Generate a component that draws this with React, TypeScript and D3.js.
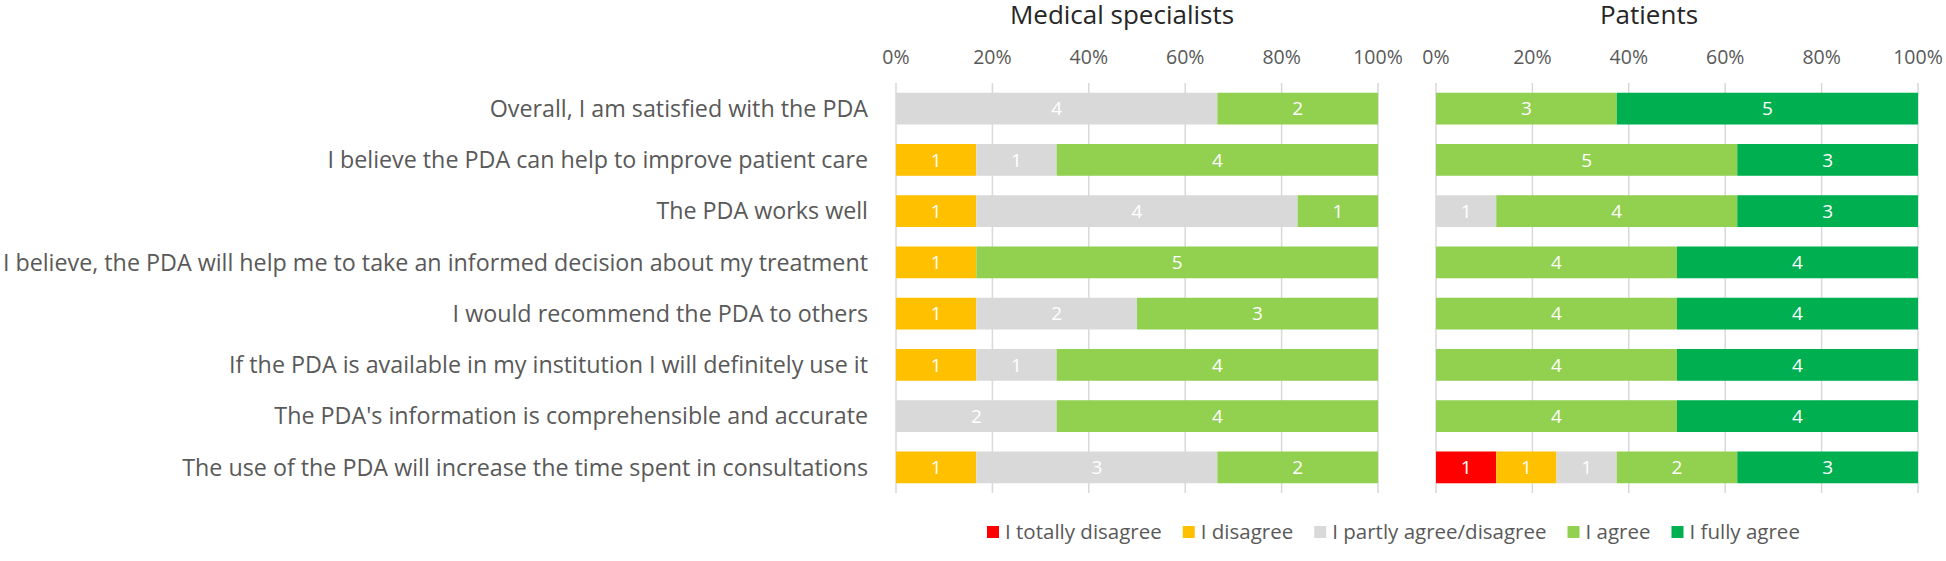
import React, { useEffect, useRef } from 'react';
import * as d3 from 'd3';

const categories = [
  'Overall, I am satisfied with the PDA',
  'I believe the PDA can help to improve patient care',
  'The PDA works well',
  'I believe, the PDA will help me to take an informed decision about my treatment',
  'I would recommend the PDA to others',
  'If the PDA is available in my institution I will definitely use it',
  "The PDA's information is comprehensible and accurate",
  'The use of the PDA will increase the time spent in consultations',
];

const responseLevels = ['I totally disagree', 'I disagree', 'I partly agree/disagree', 'I agree', 'I fully agree'];
const levelColors = ['#FF0000', '#FFC000', '#D9D9D9', '#92D050', '#00B050'];

const specTotallyDisagree = [0, 0, 0, 0, 0, 0, 0, 0];
const specDisagree = [0, 1, 1, 1, 1, 1, 0, 1];
const specPartly = [4, 1, 4, 0, 2, 1, 2, 3];
const specAgree = [2, 4, 1, 5, 3, 4, 4, 2];
const specFullyAgree = [0, 0, 0, 0, 0, 0, 0, 0];

const patTotallyDisagree = [0, 0, 0, 0, 0, 0, 0, 1];
const patDisagree = [0, 0, 0, 0, 0, 0, 0, 1];
const patPartly = [0, 0, 1, 0, 0, 0, 0, 1];
const patAgree = [3, 5, 4, 4, 4, 4, 4, 2];
const patFullyAgree = [5, 3, 3, 4, 4, 4, 4, 3];

const tickValues = [0, 0.2, 0.4, 0.6, 0.8, 1];
const panelTitles = ['Medical specialists', 'Patients'];

const W = 1946;
const H = 561;
const FONT = "'Open Sans', 'Noto Sans', sans-serif";

export default function App() {
  const ref = useRef<SVGSVGElement>(null);

  useEffect(() => {
    document.body.style.margin = '0';
    const svg = d3.select(ref.current);
    svg.selectAll('*').remove();

    const panels = [
      { title: panelTitles[0], x0: 896, x1: 1378, titleX: 1122, series: [specTotallyDisagree, specDisagree, specPartly, specAgree, specFullyAgree] },
      { title: panelTitles[1], x0: 1436, x1: 1918, titleX: 1649, series: [patTotallyDisagree, patDisagree, patPartly, patAgree, patFullyAgree] },
    ];

    const y = d3.scaleBand<string>().domain(categories).range([83, 493]).paddingInner(0.38).paddingOuter(0.19);

    // Category labels
    const labelG = svg.append('g');
    const labels = labelG
      .selectAll('text')
      .data(categories)
      .join('text')
      .attr('text-anchor', 'end')
      .attr('dy', '0.35em')
      .attr('font-family', FONT)
      .attr('font-size', 23.5)
      .attr('fill', '#595959')
      .text((d) => d);
    let maxW = 0;
    labels.each(function () {
      maxW = Math.max(maxW, (this as SVGTextElement).getComputedTextLength());
    });
    const f = maxW > 0 ? 866 / maxW : 1;
    labels.attr('transform', (d) => `translate(868,${(y(d) ?? 0) + y.bandwidth() / 2}) scale(${f},1)`);

    panels.forEach((p) => {
      const x = d3.scaleLinear().domain([0, 1]).range([p.x0, p.x1]);
      const g = svg.append('g');

      g.append('text')
        .attr('x', p.titleX)
        .attr('y', 24)
        .attr('text-anchor', 'middle')
        .attr('font-family', FONT)
        .attr('font-size', 26)
        .attr('fill', '#262626')
        .text(p.title);

      g.selectAll('line.grid')
        .data(tickValues)
        .join('line')
        .attr('class', 'grid')
        .attr('x1', (d) => x(d))
        .attr('x2', (d) => x(d))
        .attr('y1', 83)
        .attr('y2', 493)
        .attr('stroke', '#D9D9D9')
        .attr('stroke-width', 1.5);

      g.selectAll('text.tick')
        .data(tickValues)
        .join('text')
        .attr('class', 'tick')
        .attr('x', (d) => x(d))
        .attr('y', 57)
        .attr('dy', '0.35em')
        .attr('text-anchor', 'middle')
        .attr('font-family', FONT)
        .attr('font-size', 19.5)
        .attr('fill', '#595959')
        .text((d) => d3.format('.0%')(d));

      categories.forEach((cat, i) => {
        const counts = p.series.map((s) => s[i]);
        const total = d3.sum(counts);
        let acc = 0;
        counts.forEach((c, k) => {
          if (c <= 0) return;
          const a = acc / total;
          acc += c;
          const b = acc / total;
          g.append('rect')
            .attr('x', x(a))
            .attr('y', y(cat) ?? 0)
            .attr('width', x(b) - x(a))
            .attr('height', y.bandwidth())
            .attr('fill', levelColors[k]);
          g.append('text')
            .attr('x', (x(a) + x(b)) / 2)
            .attr('y', (y(cat) ?? 0) + y.bandwidth() / 2)
            .attr('dy', '0.36em')
            .attr('text-anchor', 'middle')
            .attr('font-family', FONT)
            .attr('font-size', 19)
            .attr('fill', '#FFFFFF')
            .text(String(c));
        });
      });
    });

    // Legend
    const legend = svg.append('g');
    let lx = 987;
    const ly = 532;
    responseLevels.forEach((lab, k) => {
      legend
        .append('rect')
        .attr('x', lx)
        .attr('y', ly - 6)
        .attr('width', 12)
        .attr('height', 12)
        .attr('fill', levelColors[k]);
      const t = legend
        .append('text')
        .attr('x', lx + 18)
        .attr('y', ly)
        .attr('dy', '0.35em')
        .attr('font-family', FONT)
        .attr('font-size', 20.5)
        .attr('fill', '#595959')
        .text(lab);
      const tw = (t.node() as SVGTextElement).getComputedTextLength();
      lx = lx + 18 + tw + 21;
    });
  }, []);

  return <svg ref={ref} width={W} height={H} style={{ display: 'block', background: '#fff' }} />;
}
